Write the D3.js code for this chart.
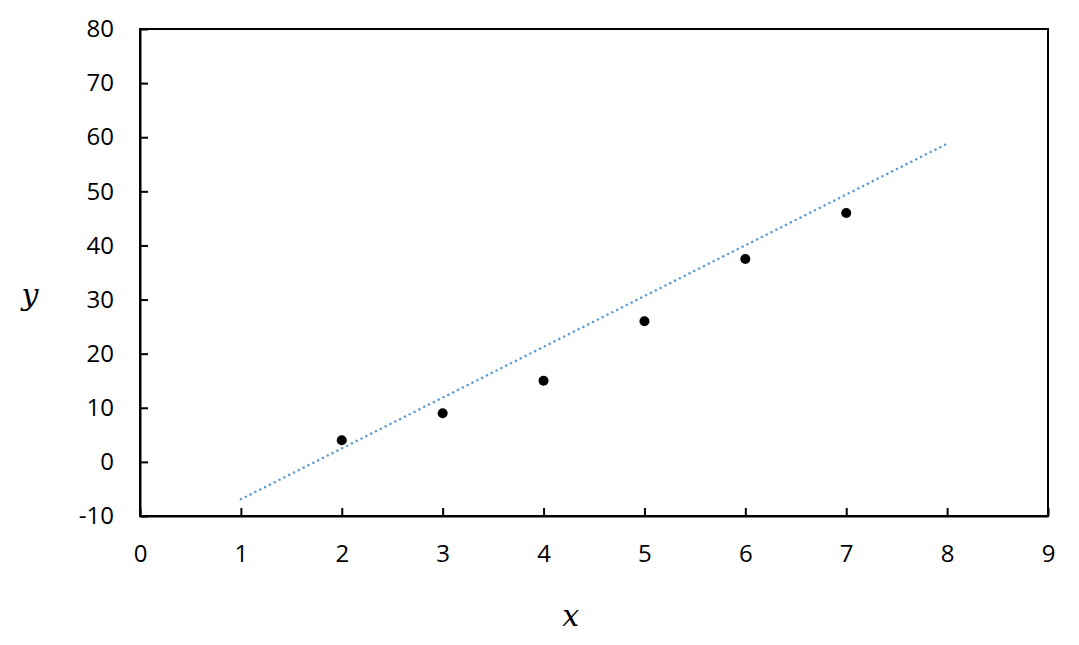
<!DOCTYPE html>
<html>
<head>
<meta charset="utf-8">
<script src="https://cdn.jsdelivr.net/npm/d3@7"></script>
<style>
  body { margin: 0; background: #fff; }
  text { font-family: "Open Sans", "Noto Sans", sans-serif; }
</style>
</head>
<body>
<div id="chart"></div>
<script>
// data
const xValues = [2, 3, 4, 5, 6, 7];
const yValues = [4, 9, 15, 26, 37.5, 46];
const trendX = [1, 8];
const trendY = [-6.9, 58.8];
const xTicks = [0, 1, 2, 3, 4, 5, 6, 7, 8, 9];
const yTicks = [-10, 0, 10, 20, 30, 40, 50, 60, 70, 80];

const W = 1079, H = 645;
const margin = {top: 29, right: 31, bottom: 129, left: 140};
const width = W - margin.left - margin.right;
const height = H - margin.top - margin.bottom;

const svg = d3.select("#chart")
  .append("svg")
    .attr("width", W)
    .attr("height", H)
  .append("g")
    .attr("transform", `translate(${margin.left},${margin.top})`);

const x = d3.scaleLinear().domain([0, 9]).range([0, width]);
const y = d3.scaleLinear().domain([-10, 80]).range([height, 0]);

// frame
svg.append("rect")
  .attr("width", width)
  .attr("height", height)
  .attr("fill", "none")
  .attr("stroke", "black")
  .attr("stroke-width", 2);

// X axis, ticks pointing inward
const xAxis = svg.append("g")
  .attr("transform", `translate(0,${height})`)
  .call(d3.axisBottom(x).tickValues(xTicks).tickSizeInner(-8).tickSizeOuter(0).tickPadding(29));
xAxis.attr("font-size", 24);
xAxis.select(".domain").attr("stroke-width", 2);
xAxis.selectAll(".tick line").attr("stroke-width", 2);
xAxis.selectAll("text").style("font-size", "24px").attr("fill", "black");

// Y axis
const yAxis = svg.append("g")
  .call(d3.axisLeft(y).tickValues(yTicks).tickFormat(d => String(d)).tickSizeInner(-8).tickSizeOuter(0).tickPadding(26));
yAxis.attr("font-size", 24);
yAxis.select(".domain").attr("stroke-width", 2);
yAxis.selectAll(".tick line").attr("stroke-width", 2);
yAxis.selectAll("text").style("font-size", "24px").attr("fill", "black");

// trend line (dotted)
const trend = trendX.map((d, i) => ({x: d, y: trendY[i]}));
svg.append("path")
  .datum(trend)
  .attr("fill", "none")
  .attr("stroke", "#5b9bd5")
  .attr("stroke-width", 2.5)
  .attr("stroke-linecap", "round")
  .attr("stroke-dasharray", "0.1 5.3")
  .attr("d", d3.line().x(d => x(d.x)).y(d => y(d.y)));

// points
svg.selectAll("circle.pt")
  .data(xValues.map((d, i) => ({x: d, y: yValues[i]})))
  .join("circle")
    .attr("class", "pt")
    .attr("cx", d => x(d.x))
    .attr("cy", d => y(d.y))
    .attr("r", 5)
    .attr("fill", "black");

// axis titles
svg.append("text")
  .attr("x", x(4.27))
  .attr("y", height + 110)
  .attr("text-anchor", "middle")
  .style("font-family", "'DejaVu Serif', 'Liberation Serif', serif")
  .style("font-style", "italic")
  .style("font-size", "30px")
  .text("x");

svg.append("text")
  .attr("x", -110)
  .attr("y", y(29))
  .attr("text-anchor", "middle")
  .style("font-family", "'DejaVu Serif', 'Liberation Serif', serif")
  .style("font-style", "italic")
  .style("font-size", "30px")
  .text("y");
</script>
</body>
</html>
